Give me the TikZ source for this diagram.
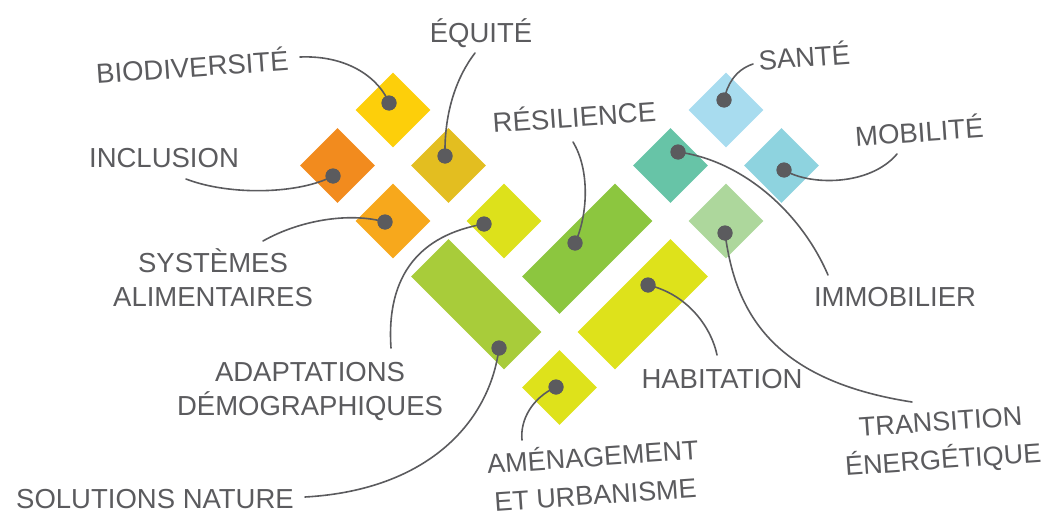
\documentclass[tikz,border=0pt]{standalone}
\usepackage{fontspec}
\setmainfont{Liberation Sans}
\usetikzlibrary{shapes.geometric}
\definecolor{ink}{HTML}{5B5B5E}
\definecolor{cBio}{HTML}{FDCF0A}
\definecolor{cIncl}{HTML}{F28B1E}
\definecolor{cEqu}{HTML}{E3BE20}
\definecolor{cSys}{HTML}{F7A81C}
\definecolor{cAdapt}{HTML}{DDE11B}
\definecolor{cSol}{HTML}{A8CC3A}
\definecolor{cRes}{HTML}{8CC63F}
\definecolor{cHab}{HTML}{DEE21B}
\definecolor{cAmen}{HTML}{DEE21B}
\definecolor{cImmo}{HTML}{67C4A7}
\definecolor{cSante}{HTML}{A8DCEF}
\definecolor{cMob}{HTML}{8ED3DF}
\definecolor{cTrans}{HTML}{ADD79C}
\tikzset{
  tile/.style={diamond, minimum width=75pt, minimum height=75pt, inner sep=0pt, draw=none, fill=#1},
  bar/.style={rectangle, minimum width=131.5pt, minimum height=53pt, inner sep=0pt, draw=none, fill=#1},
  dot/.style={circle, minimum size=15pt, inner sep=0pt, fill=ink},
  lbl/.style={text=ink, inner sep=0pt, font=\fontsize{27.5}{34}\selectfont, align=center},
  wide/.style={font=\fontsize{27}{38}\selectfont},
  link/.style={draw=ink, line width=1.6pt, line cap=round}
}
\begin{document}
\begin{tikzpicture}[x=1pt,y=-1pt]
\useasboundingbox (0,0) rectangle (1043,519);
% tiles
\node[tile=cBio]   (tBio)   at (393,110) {};
\node[tile=cIncl]  (tIncl)  at (337.5,165.5) {};
\node[tile=cEqu]   (tEqu)   at (448.5,165.5) {};
\node[tile=cSys]   (tSys)   at (393,221) {};
\node[tile=cAdapt] (tAdapt) at (504,221) {};
\node[bar=cSol, rotate=-45] (tSol) at (476.25,304.25) {};
\node[bar=cRes, rotate=45]  (tRes) at (587.25,248.75) {};
\node[bar=cHab, rotate=45]  (tHab) at (642.75,304.25) {};
\node[tile=cAmen]  (tAmen)  at (559.5,387.5) {};
\node[tile=cImmo]  (tImmo)  at (670.5,165.5) {};
\node[tile=cSante] (tSante) at (726,110) {};
\node[tile=cMob]   (tMob)   at (781.5,165.5) {};
\node[tile=cTrans] (tTrans) at (726,221) {};
% dots
\node[dot] (dBio)   at (389,103) {};
\node[dot] (dIncl)  at (333,176) {};
\node[dot] (dEqu)   at (445,156) {};
\node[dot] (dSys)   at (385,222) {};
\node[dot] (dAdapt) at (484,224) {};
\node[dot] (dSol)   at (499,348) {};
\node[dot] (dRes)   at (575,243) {};
\node[dot] (dHab)   at (648,285) {};
\node[dot] (dAmen)  at (556,387) {};
\node[dot] (dImmo)  at (678,152) {};
\node[dot] (dSante) at (724,100) {};
\node[dot] (dMob)   at (784,170) {};
\node[dot] (dTrans) at (725,233) {};
% labels
\node[lbl, anchor=base, rotate=4] (lBio) at (193,77) {BIODIVERSITÉ};
\node[lbl, anchor=base] (lEqu) at (481,42) {ÉQUITÉ};
\node[lbl, anchor=base] (lIncl) at (164,167) {INCLUSION};
\node[lbl, anchor=base, rotate=4] (lRes) at (575,127) {RÉSILIENCE};
\node[lbl] (lSys) at (213,278) {SYSTÈMES\\ALIMENTAIRES};
\node[lbl] (lAdapt) at (310,391) {ADAPTATIONS\\DÉMOGRAPHIQUES};
\node[lbl, anchor=base] (lSol) at (155,508) {SOLUTIONS NATURE};
\node[lbl, anchor=base] (lHab) at (722,388) {HABITATION};
\node[lbl, wide, rotate=4] (lAmen) at (594,474) {AMÉNAGEMENT\\ET URBANISME};
\node[lbl, anchor=base, rotate=4] (lSante) at (805,67) {SANTÉ};
\node[lbl, anchor=base, rotate=4] (lMob) at (920,142) {MOBILITÉ};
\node[lbl, anchor=base] (lImmo) at (895,306) {IMMOBILIER};
\node[lbl, wide, rotate=4] (lTrans) at (942,443) {TRANSITION\\ÉNERGÉTIQUE};
% connector free ends
\coordinate (eBio) at (300,57);
\coordinate (eEqu) at (475,53);
\coordinate (eIncl) at (186,179);
\coordinate (eSys) at (263,241);
\coordinate (eAdapt) at (391,348);
\coordinate (eSol) at (305,497);
\coordinate (eAmen) at (522,440);
\coordinate (eRes) at (573,142);
\coordinate (eHab) at (717,355);
\coordinate (eSante) at (753,64);
\coordinate (eMob) at (897,154);
\coordinate (eImmo) at (828,275);
\coordinate (eTrans) at (912,402);
% connectors
\draw[link] (eBio) .. controls (350,55) and (380,80) .. (dBio.center);
\draw[link] (eEqu) .. controls (458,75) and (444,110) .. (dEqu.center);
\draw[link] (eIncl) .. controls (230,196) and (300,194) .. (dIncl.center);
\draw[link] (eSys) .. controls (300,220) and (350,212) .. (dSys.center);
\draw[link] (dAdapt.center) .. controls (420,235) and (386,275) .. (eAdapt);
\draw[link] (dSol.center) .. controls (490,420) and (430,490) .. (eSol);
\draw[link] (dAmen.center) .. controls (532,398) and (520,420) .. (eAmen);
\draw[link] (eRes) .. controls (590,170) and (588,215) .. (dRes.center);
\draw[link] (dHab.center) .. controls (690,295) and (712,330) .. (eHab);
\draw[link] (eSante) .. controls (735,70) and (727,85) .. (dSante.center);
\draw[link] (dMob.center) .. controls (810,186) and (870,186) .. (eMob);
\draw[link] (dImmo.center) .. controls (740,160) and (800,210) .. (eImmo);
\draw[link] (dTrans.center) .. controls (735,310) and (770,380) .. (eTrans);
% dots again on top
\foreach \d in {dBio,dIncl,dEqu,dSys,dAdapt,dSol,dRes,dHab,dAmen,dImmo,dSante,dMob,dTrans}
  \fill[ink] (\d.center) circle (7.5pt);
\end{tikzpicture}
\end{document}
